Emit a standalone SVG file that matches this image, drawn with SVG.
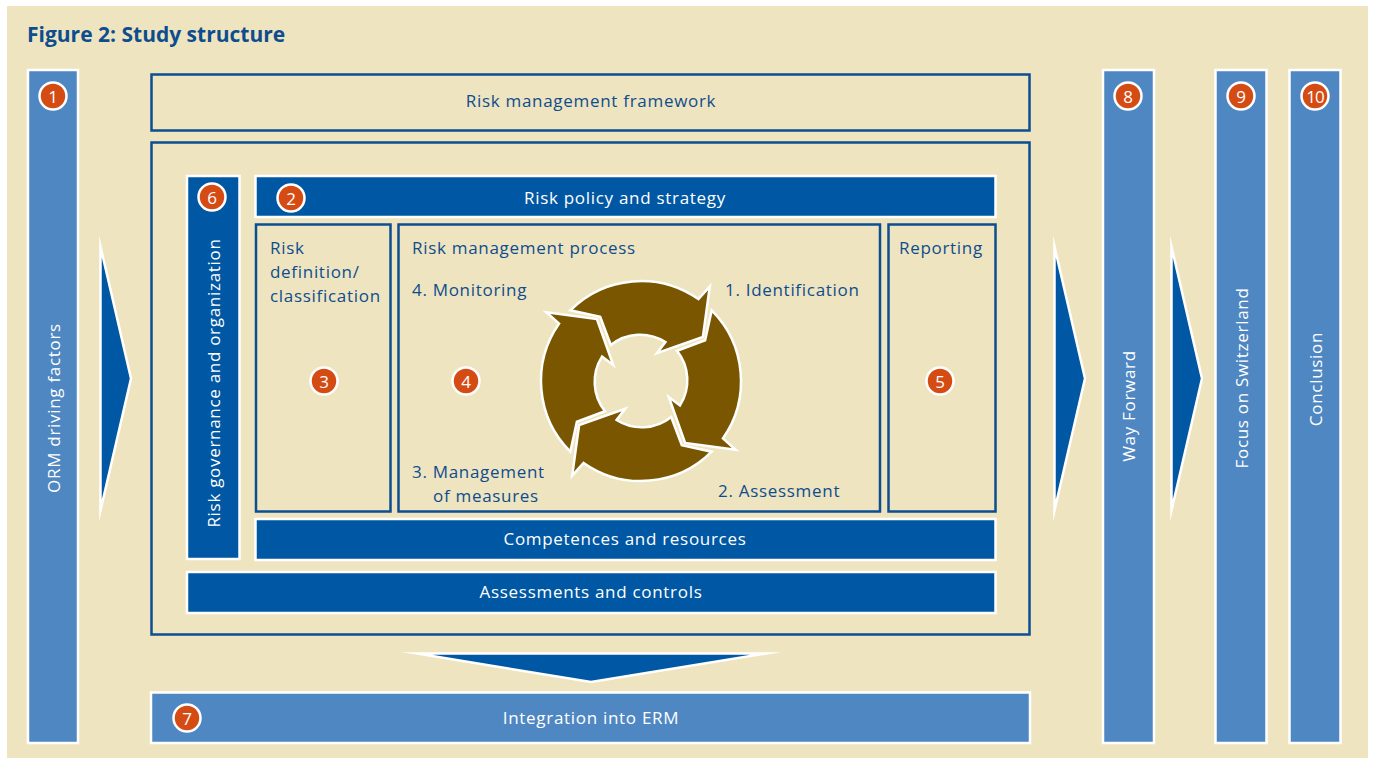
<svg xmlns="http://www.w3.org/2000/svg" width="1374" height="762" viewBox="0 0 1374 762">
<style>
.t{font-family:"Open Sans","Noto Sans","DejaVu Sans",sans-serif;font-size:17px;fill:#0d4d8e;letter-spacing:0.7px}
.w{fill:#ffffff}
.c{text-anchor:middle}
.v{text-anchor:middle;dominant-baseline:central}
.col{fill:#4f87c2;stroke:#ffffff;stroke-width:2.5}
.dk{fill:#0057a3;stroke:#ffffff;stroke-width:2.5}
.ol{fill:none;stroke:#0b4e91;stroke-width:2.5}
.arr{fill:#0057a3;stroke:#ffffff;stroke-width:2.5;stroke-linejoin:miter;stroke-miterlimit:20}
.bd circle{fill:#d54b14;stroke:#ffffff;stroke-width:2.5}
.bd text{font-family:"Open Sans","Noto Sans",sans-serif;font-size:17px;fill:#ffffff;text-anchor:middle;dominant-baseline:central}
.ring{fill:#7a5600;stroke:#ffffff;stroke-width:2.5;stroke-linejoin:miter;stroke-miterlimit:10}
</style>
<defs>
<path id="ca" d="M -70.7 -70.7 A 100 100 0 0 1 57.4 -81.9 L 68.8 -94.7 L 61.9 -44.1 L 15.9 -27.8 L 24.4 -39.0 A 47 47 0 0 0 -30.2 -36.0 L -40.8 -64.1 Z"/>
<polygon id="ra" points="100.5,246.5 131,378.5 100.5,510.5"/>
</defs>
<rect x="7" y="6" width="1361" height="752" fill="#efe4c0"/>
<text x="27" y="42" style="font-family:'Open Sans','Noto Sans',sans-serif;font-size:21px;font-weight:bold;fill:#0d4d8e">Figure 2: Study structure</text>

<g id="connectors">
<use href="#ra" class="arr"/>
<use href="#ra" class="arr" transform="translate(954,0)"/>
<use href="#ra" class="arr" transform="translate(1071,0)"/>
<polygon class="arr" points="417,653.5 766,653.5 591,682"/>
</g>

<g id="n1">
<rect class="col" x="28" y="70" width="50" height="673"/>
<text class="t w v" transform="translate(53,408) rotate(-90)">ORM driving factors</text>
<g class="bd"><circle cx="53" cy="96" r="13.5"/><text x="53" y="96">1</text></g>
</g>

<g id="framework">
<rect class="ol" x="151.5" y="74.5" width="878" height="56"/>
<text class="t c" x="591" y="107">Risk management framework</text>
</g>

<g id="core">
<rect class="ol" x="151.5" y="142.5" width="878" height="492"/>
</g>

<g id="n6">
<rect class="dk" x="187" y="176" width="52.5" height="383"/>
<text class="t w v" transform="translate(213,383) rotate(-90)">Risk governance and organization</text>
<g class="bd"><circle cx="212" cy="197" r="13.5"/><text x="212" y="197">6</text></g>
</g>

<g id="n2">
<rect class="dk" x="255.5" y="176" width="740" height="41"/>
<text class="t w c" x="625" y="204">Risk policy and strategy</text>
<g class="bd"><circle cx="291" cy="198" r="13.5"/><text x="291" y="198">2</text></g>
</g>

<g id="n3">
<rect class="ol" x="256" y="224.5" width="134.5" height="287"/>
<text class="t" x="270" y="254">Risk</text>
<text class="t" x="270" y="278">definition/</text>
<text class="t" x="270" y="302">classification</text>
<g class="bd"><circle cx="324" cy="381" r="13.5"/><text x="324" y="381">3</text></g>
</g>

<g id="n4">
<rect class="ol" x="398.5" y="224.5" width="481.5" height="287"/>
<text class="t" x="412" y="254">Risk management process</text>
<text class="t" x="412" y="296">4. Monitoring</text>
<text class="t" x="725" y="296">1. Identification</text>
<text class="t" x="412" y="478">3. Management</text>
<text class="t" x="433" y="502">of measures</text>
<text class="t" x="718" y="497">2. Assessment</text>
<g class="bd"><circle cx="466" cy="381" r="13.5"/><text x="466" y="381">4</text></g>
<g class="ring" transform="translate(641,381)">
<use href="#ca"/>
<use href="#ca" transform="rotate(90)"/>
<use href="#ca" transform="rotate(180)"/>
<use href="#ca" transform="rotate(270)"/>
</g>
</g>

<g id="n5">
<rect class="ol" x="888.5" y="224.5" width="107" height="287"/>
<text class="t" x="899" y="254">Reporting</text>
<g class="bd"><circle cx="940" cy="381" r="13.5"/><text x="940" y="381">5</text></g>
</g>

<g id="competences">
<rect class="dk" x="255.5" y="519" width="740" height="41"/>
<text class="t w c" x="625" y="545">Competences and resources</text>
</g>

<g id="assessments">
<rect class="dk" x="187" y="572" width="808.5" height="41"/>
<text class="t w c" x="591" y="598">Assessments and controls</text>
</g>

<g id="n7">
<rect class="col" x="151" y="692.5" width="879" height="50.5"/>
<text class="t w c" x="591" y="724">Integration into ERM</text>
<g class="bd"><circle cx="187" cy="718" r="13.5"/><text x="187" y="718">7</text></g>
</g>

<g id="n8">
<rect class="col" x="1103" y="70" width="51" height="673"/>
<text class="t w v" transform="translate(1128,406) rotate(-90)">Way Forward</text>
<g class="bd"><circle cx="1128" cy="96" r="13.5"/><text x="1128" y="96">8</text></g>
</g>

<g id="n9">
<rect class="col" x="1215.5" y="70" width="51" height="673"/>
<text class="t w v" transform="translate(1241,378) rotate(-90)">Focus on Switzerland</text>
<g class="bd"><circle cx="1241" cy="96" r="13.5"/><text x="1241" y="96">9</text></g>
</g>

<g id="n10">
<rect class="col" x="1289.5" y="70" width="51" height="673"/>
<text class="t w v" transform="translate(1315,379) rotate(-90)">Conclusion</text>
<g class="bd"><circle cx="1315" cy="96" r="13.5"/><text x="1315" y="96" style="letter-spacing:-1px">10</text></g>
</g>
</svg>
